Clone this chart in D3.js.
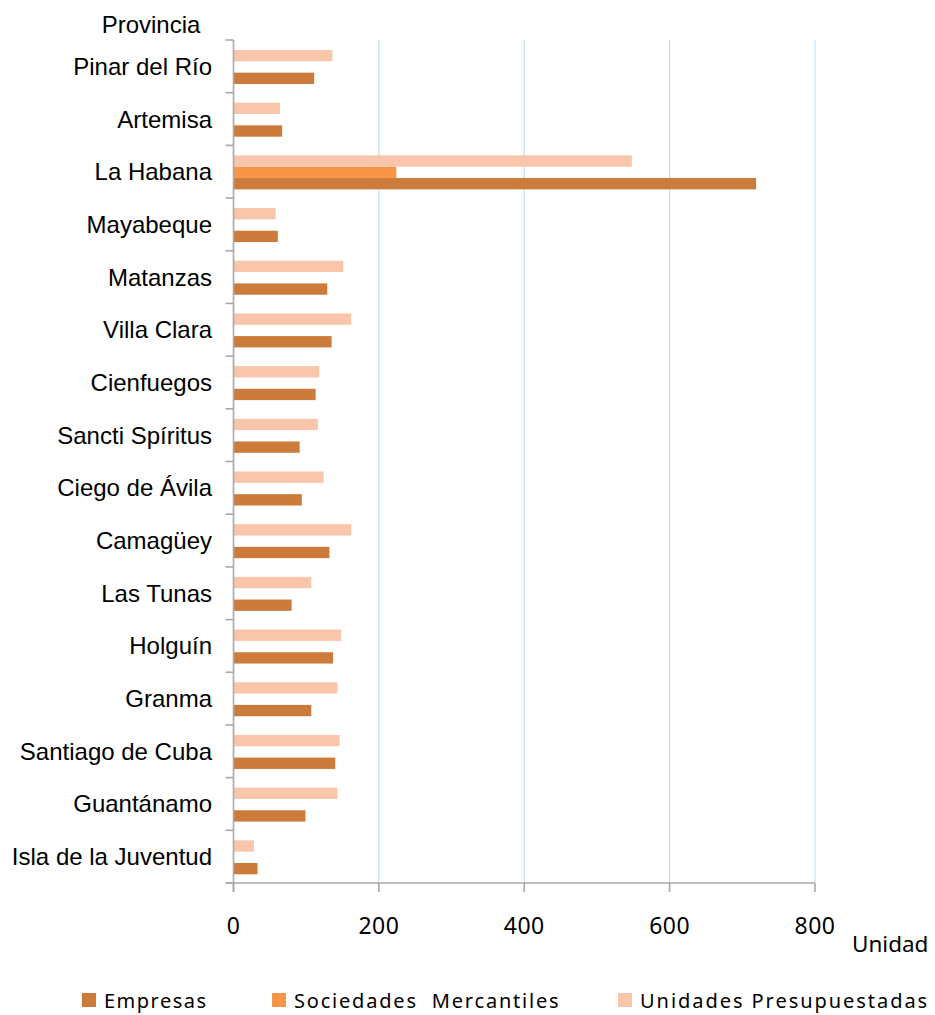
<!DOCTYPE html>
<html>
<head>
<meta charset="utf-8">
<script src="https://cdn.jsdelivr.net/npm/d3@7"></script>
<style>
  html, body { margin: 0; padding: 0; background: #fff; }
  svg { display: block; }
</style>
</head>
<body>
<svg id="chart" width="935" height="1015"></svg>
<script>
const categories = ["Pinar del Río", "Artemisa", "La Habana", "Mayabeque", "Matanzas", "Villa Clara",
  "Cienfuegos", "Sancti Spíritus", "Ciego de Ávila", "Camagüey", "Las Tunas", "Holguín",
  "Granma", "Santiago de Cuba", "Guantánamo", "Isla de la Juventud"];
const empresas = [111, 67, 719, 61, 129, 135, 113, 91, 94, 132, 80, 137, 107, 140, 99, 33];
const sociedades = [0, 0, 224, 0, 0, 0, 0, 0, 0, 0, 0, 0, 0, 0, 0, 0];
const unidades = [136, 64, 548, 58, 151, 162, 118, 116, 124, 162, 107, 148, 143, 146, 143, 28];
const seriesNames = ["Empresas", "Sociedades  Mercantiles", "Unidades Presupuestadas"];
const xTicks = [0, 200, 400, 600, 800];
const yTitle = "Provincia";
const xTitle = "Unidad";

const colors = ["#CD7B3A", "#F79646", "#F9C5AB"];
const seriesValues = [empresas, sociedades, unidades];

const svg = d3.select("#chart");
const x = d3.scaleLinear().domain([0, 800]).range([233.5, 815]);
const y = d3.scaleBand().domain(categories).range([40, 883]).padding(0);
// order of bars from top to bottom inside a band
const sub = d3.scaleBand().domain([2, 1, 0]).range([10, y.bandwidth() - 8.7]).padding(0);

// gridlines
svg.append("g").selectAll("line").data(xTicks.filter(d => d > 0)).join("line")
  .attr("x1", d => x(d)).attr("x2", d => x(d))
  .attr("y1", 40).attr("y2", 883)
  .attr("stroke", "#c3ddf6").attr("stroke-width", 1.2);

// bars
seriesValues.forEach((vals, si) => {
  svg.append("g").selectAll("rect").data(categories.map((c, i) => ({c, v: vals[i]})).filter(d => d.v > 0))
    .join("rect")
    .attr("x", x(0))
    .attr("y", d => y(d.c) + sub(si))
    .attr("width", d => x(d.v) - x(0))
    .attr("height", sub.bandwidth())
    .attr("fill", colors[si]);
});

// y axis
const yAxisG = svg.append("g");
yAxisG.append("line").attr("x1", x(0)).attr("x2", x(0)).attr("y1", 40).attr("y2", 892)
  .attr("stroke", "#a9a9a9").attr("stroke-width", 1.6);
const bounds = categories.map(c => y(c)).concat([y.range()[1]]);
yAxisG.selectAll("line.tk").data(bounds).join("line").attr("class", "tk")
  .attr("x1", x(0) - 8).attr("x2", x(0)).attr("y1", d => d).attr("y2", d => d)
  .attr("stroke", "#a9a9a9").attr("stroke-width", 1.6);
yAxisG.selectAll("text").data(categories).join("text")
  .attr("x", 212).attr("y", d => y(d) + y.bandwidth() / 2)
  .attr("text-anchor", "end").attr("dominant-baseline", "central")
  .attr("font-family", "Liberation Sans, Arial, sans-serif").attr("font-size", 24)
  .attr("fill", "#000").text(d => d);

svg.append("text").attr("x", 151).attr("y", 24)
  .attr("text-anchor", "middle").attr("dominant-baseline", "central")
  .attr("font-family", "Liberation Sans, Arial, sans-serif").attr("font-size", 24)
  .text(yTitle);

// x axis
const xAxisG = svg.append("g");
xAxisG.append("line").attr("x1", x(0) - 8).attr("x2", x(800)).attr("y1", 883).attr("y2", 883)
  .attr("stroke", "#a9a9a9").attr("stroke-width", 1.6);
xAxisG.selectAll("line.tk").data(xTicks).join("line").attr("class", "tk")
  .attr("x1", d => x(d)).attr("x2", d => x(d)).attr("y1", 883).attr("y2", 892)
  .attr("stroke", "#a9a9a9").attr("stroke-width", 1.6);
xAxisG.selectAll("text").data(xTicks).join("text")
  .attr("x", d => x(d)).attr("y", 925)
  .attr("text-anchor", "middle").attr("dominant-baseline", "central")
  .attr("font-family", "Noto Sans, sans-serif").attr("font-size", 23)
  .attr("letter-spacing", 0.5)
  .text(d => d);

svg.append("text").attr("x", 852).attr("y", 943)
  .attr("dominant-baseline", "central")
  .attr("font-family", "Noto Sans, sans-serif").attr("font-size", 22.5)
  .text(xTitle);

// legend
const legendX = [82, 272, 618];
const legendSpacing = [1.5, 1.8, 1.95];
const lg = svg.append("g").selectAll("g").data(seriesNames).join("g")
  .attr("transform", (d, i) => `translate(${legendX[i]},993)`);
lg.append("rect").attr("width", 14).attr("height", 14).attr("fill", (d, i) => colors[i]);
lg.append("text").attr("x", 22).attr("y", 7.5)
  .attr("dominant-baseline", "central")
  .attr("font-family", "Noto Sans, sans-serif").attr("font-size", 20)
  .attr("letter-spacing", (d, i) => legendSpacing[i])
  .attr("xml:space", "preserve").style("white-space", "pre")
  .text(d => d);
</script>
</body>
</html>
